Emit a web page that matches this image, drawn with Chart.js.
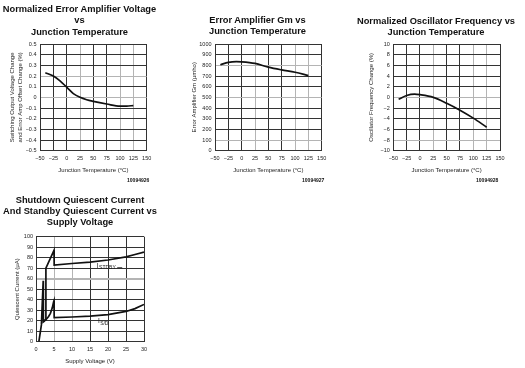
<!DOCTYPE html>
<html lang="en">
<head>
<meta charset="utf-8">
<script src="https://cdn.jsdelivr.net/npm/chart.js@4"></script>
<style>
  body { margin: 0; background: #fff; }
  #hoja { position: relative; width: 525px; height: 368px; overflow: hidden; font-family: 'Liberation Sans', Arial, sans-serif; }
  #hoja canvas { position: absolute; }
  .titulo { position: absolute; text-align: center; font-weight: bold; font-size: 9.3px; white-space: nowrap; color: #111; z-index: 2; }
  .codigo { position: absolute; width: 50px; text-align: right; font-weight: bold; font-size: 5px; line-height: 6px; color: #111; z-index: 2; }
</style>
</head>
<body>
<div id="hoja">
  <div class="titulo" style="left:0;top:4px;width:159px;line-height:11.3px">Normalized Error Amplifier Voltage<br>vs<br>Junction Temperature</div>
  <div class="titulo" style="left:187.5px;top:14.5px;width:140px;line-height:11.7px">Error Amplifier Gm vs<br>Junction Temperature</div>
  <div class="titulo" style="left:356px;top:15.5px;width:160px;line-height:11.2px">Normalized Oscillator Frequency vs<br>Junction Temperature</div>
  <div class="titulo" style="left:0;top:195.3px;width:160px;line-height:11px">Shutdown Quiescent Current<br>And Standby Quiescent Current vs<br>Supply Voltage</div>

  <div class="codigo" style="left:99.3px;top:177px">10094926</div>
  <div class="codigo" style="left:274.3px;top:177px">10094927</div>
  <div class="codigo" style="left:448.3px;top:177px">10094928</div>

  <canvas id="c1" width="160" height="185" style="left:0;top:0"></canvas>
  <canvas id="c2" width="145" height="185" style="left:185px;top:0"></canvas>
  <canvas id="c3" width="160" height="185" style="left:360px;top:0"></canvas>
  <canvas id="c4" width="160" height="183" style="left:0;top:185px"></canvas>
</div>
<script>
// Datos
const tempErr = [-40, -25, -12.5, 0, 12.5, 25, 37.5, 50, 75, 100, 112.5, 125];
const errChange = [0.23, 0.20, 0.155, 0.095, 0.035, 0.0, -0.022, -0.037, -0.062, -0.083, -0.082, -0.077];

const tempGm = [-40, -25, -10, 0, 25, 50, 75, 100, 125];
const gmUmho = [806, 828, 835, 833, 818, 783, 757, 735, 704];

const tempOsc = [-40, -25, -10, 0, 25, 50, 75, 100, 125];
const oscChange = [-0.35, 0.35, 0.6, 0.5, 0.0, -1.1, -2.4, -3.9, -5.6];

const vStandby = [0.8, 1.5, 2.0, 2.05, 2.7, 2.75, 5.0, 5.05, 10, 15, 20, 25, 27.5, 30];
const iStandby = [0, 16, 58, 19, 21, 70, 87, 73, 74.5, 75.8, 77.8, 80.8, 83, 85.3];

const vShutdown = [2.05, 3.0, 3.5, 4.0, 4.5, 4.9, 5.0, 5.05, 10, 15, 20, 25, 27.5, 30];
const iShutdown = [19, 22, 24, 27, 32, 38, 39, 23, 23.5, 24.3, 25.8, 28.8, 31.5, 35.5];

const tempTicks = [-50, -25, 0, 25, 50, 75, 100, 125, 150];
const errTicks = [-0.5, -0.4, -0.3, -0.2, -0.1, 0, 0.1, 0.2, 0.3, 0.4, 0.5];
const gmTicks = [0, 100, 200, 300, 400, 500, 600, 700, 800, 900, 1000];
const oscTicks = [-10, -8, -6, -4, -2, 0, 2, 4, 6, 8, 10];
const voltTicks = [0, 5, 10, 15, 20, 25, 30];
const currentTicks = [0, 10, 20, 30, 40, 50, 60, 70, 80, 90, 100];

// etiquetas de las curvas (subindice)
const curveLabels = [
  { sub: 'STDBY', v: 16.9, i: 72, dash: true },
  { sub: 'S/D', v: 17.2, i: 19.2, dash: false }
];

Chart.defaults.font.family = "'Liberation Sans', Arial, sans-serif";
Chart.defaults.color = '#222';

const dark = '#333';
const light = '#b4b4b4';
const fmt = v => String(v).replace('-', '\u2212');
const pares = (xs, ys) => xs.map((x, i) => ({ x, y: ys[i] }));

function escala(s, eje) {
  return {
    type: 'linear',
    min: s.ticks[0],
    max: s.ticks[s.ticks.length - 1],
    afterBuildTicks: sc => { sc.ticks = s.ticks.map(value => ({ value })); },
    afterFit: sc => {
      if (eje === 'x') sc.height = s.size; else sc.width = s.size;
      sc.paddingLeft = sc.paddingRight = sc.paddingTop = sc.paddingBottom = 0;
    },
    grid: {
      drawTicks: false,
      lineWidth: c => (s.heavy && s.heavy.includes(c.tick && c.tick.value) ? 2 : 1),
      color: c => (s.light.includes(c.tick && c.tick.value) ? light : dark)
    },
    border: { color: dark, width: 1 },
    ticks: { padding: s.pad, autoSkip: false, maxRotation: 0, font: { size: 5.5 }, callback: v => fmt(v) },
    title: { display: true, text: s.title, padding: s.titlePad, font: { size: 6, lineHeight: 1.2 } }
  };
}

function grafica(id, cfg) {
  return new Chart(document.getElementById(id), {
    type: 'line',
    data: {
      datasets: cfg.series.map(d => ({
        data: d,
        borderColor: '#111',
        borderWidth: 1.7,
        pointRadius: 0,
        fill: false,
        tension: cfg.smooth ? 0.4 : 0,
        cubicInterpolationMode: cfg.smooth ? 'monotone' : 'default'
      }))
    },
    options: {
      responsive: false,
      animation: false,
      events: [],
      layout: { padding: cfg.padding },
      plugins: { legend: { display: false }, tooltip: { enabled: false } },
      scales: { x: escala(cfg.x, 'x'), y: escala(cfg.y, 'y') }
    },
    plugins: cfg.plugins || []
  });
}

const tempAxis = (light) => ({
  ticks: tempTicks, light, size: 34.3, pad: 4.3,
  title: 'Junction Temperature (\u00B0C)', titlePad: { top: 0, bottom: 10.7 }
});

grafica('c1', {
  smooth: true,
  series: [pares(tempErr, errChange)],
  padding: { top: 44, right: 13.3, bottom: 0, left: 0 },
  x: tempAxis([25, 100, 125]),
  y: {
    ticks: errTicks, light: [0.2, 0], size: 40, pad: 3.5,
    title: ['Switching Output Voltage Change', 'and Error Amp Offset Change (%)'],
    titlePad: { top: 9.1, bottom: 0 }
  }
});

grafica('c2', {
  smooth: true,
  series: [pares(tempGm, gmUmho)],
  padding: { top: 44, right: 8.3, bottom: 0, left: 0 },
  x: tempAxis([25, 100, 125]),
  y: {
    ticks: gmTicks, light: [800, 500, 100], size: 30, pad: 3.5,
    title: 'Error Amplifier Gm (\u00B5mho)', titlePad: { top: 5.7, bottom: 0 }
  }
});

grafica('c3', {
  smooth: true,
  series: [pares(tempOsc, oscChange)],
  padding: { top: 44, right: 20, bottom: 0, left: 0 },
  x: tempAxis([25, 100, 125]),
  y: {
    ticks: oscTicks, light: [0, -8], size: 33.3, pad: 3.5,
    title: 'Oscillator Frequency Change (%)', titlePad: { top: 8.1, bottom: 0 }
  }
});

const etiquetas = {
  id: 'etiquetas',
  afterDatasetsDraw(chart) {
    const { ctx, scales: { x, y } } = chart;
    ctx.save();
    ctx.fillStyle = '#222';
    ctx.strokeStyle = '#222';
    ctx.lineWidth = 0.8;
    ctx.textBaseline = 'middle';
    curveLabels.forEach(l => {
      const px = x.getPixelForValue(l.v);
      const py = y.getPixelForValue(l.i);
      ctx.font = "6.5px 'Liberation Sans', Arial";
      ctx.fillText('I', px, py);
      const w = ctx.measureText('I').width;
      ctx.font = "5px 'Liberation Sans', Arial";
      ctx.fillText(l.sub, px + w + 0.4, py + 2);
      if (l.dash) {
        const end = px + w + 0.4 + ctx.measureText(l.sub).width + 1.5;
        ctx.beginPath();
        ctx.moveTo(end, py + 1.5);
        ctx.lineTo(end + 5, py + 1.5);
        ctx.stroke();
      }
    });
    ctx.restore();
  }
};

grafica('c4', {
  smooth: false,
  series: [pares(vStandby, iStandby), pares(vShutdown, iShutdown)],
  padding: { top: 51.7, right: 16, bottom: 0, left: 0 },
  x: {
    ticks: voltTicks, light: [5, 10], size: 26.3, pad: 4,
    title: 'Supply Voltage (V)', titlePad: { top: 0, bottom: 2.7 }
  },
  y: {
    ticks: currentTicks, light: [60], heavy: [60], size: 36, pad: 3,
    title: 'Quiescent Current (\u00B5A)', titlePad: { top: 13.7, bottom: 0 }
  },
  plugins: [etiquetas]
});
</script>
</body>
</html>
